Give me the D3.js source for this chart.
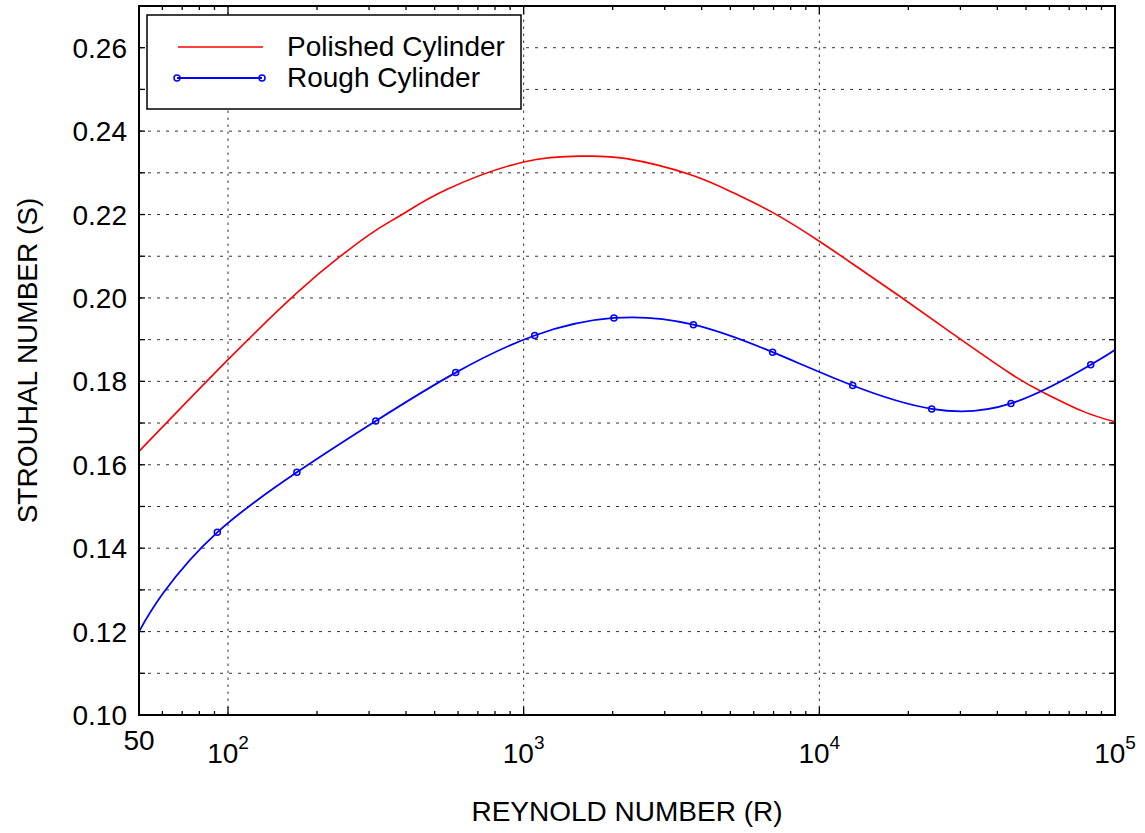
<!DOCTYPE html>
<html>
<head>
<meta charset="utf-8">
<script src="https://cdn.jsdelivr.net/npm/d3@7"></script>
<style>
  body { margin: 0; background: #fff; }
  text { font-family: "Liberation Sans", Arial, Helvetica, sans-serif; fill: #000; }
</style>
</head>
<body>
<svg id="chart" width="1145" height="833"></svg>
<script>
// polished cylinder curve
const polishedR = [50, 100, 171, 240, 316, 392, 549, 1000, 1590, 2230, 3650, 5120, 6990, 10000, 13700, 18700, 27000, 44000, 57000, 78000, 100000];
const polishedS = [0.1632, 0.1852, 0.2012, 0.2100, 0.2162, 0.2202, 0.2260, 0.2326, 0.2340, 0.2334, 0.2296, 0.2252, 0.2204, 0.2136, 0.2070, 0.2004, 0.1924, 0.1820, 0.1774, 0.1728, 0.1703];

// rough cylinder markers
const roughR = [92, 171, 316, 589, 1090, 2020, 3750, 6950, 12970, 23990, 44490, 82770];
const roughS = [0.1438, 0.1582, 0.1705, 0.1821, 0.1910, 0.1952, 0.1936, 0.1870, 0.1790, 0.1734, 0.1747, 0.1840];
// extra points on the rough curve (ends and the steep start)
const roughExtraR = [50, 60.3, 100000];
const roughExtraS = [0.1200, 0.1292, 0.1876];

const yTickValues = [0.10, 0.12, 0.14, 0.16, 0.18, 0.20, 0.22, 0.24, 0.26];
const xTickValues = [50, 100, 1000, 10000, 100000];
const xTickBase = ["50", "10", "10", "10", "10"];
const xTickExp = ["", "2", "3", "4", "5"];
const seriesNames = ["Polished Cylinder", "Rough Cylinder"];

const width = 1145, height = 833;
const margin = { left: 139, right: 30, top: 6, bottom: 118 };
const svg = d3.select("#chart");

const x = d3.scaleLog().domain([50, 100000]).range([margin.left, width - margin.right]);
const y = d3.scaleLinear().domain([0.10, 0.27]).range([height - margin.bottom, margin.top]);
const [x0, x1] = x.range();
const [y0, y1] = y.range();

// grid: every 0.01 on y, decades on x
const yGrid = d3.range(11, 27).map(d => d / 100);
svg.append("g").selectAll("line").data(yGrid).join("line")
    .attr("x1", x0).attr("x2", x1)
    .attr("y1", d => y(d)).attr("y2", d => y(d))
    .attr("stroke", "#333").attr("stroke-width", 1)
    .attr("stroke-dasharray", "3,6");

svg.append("g").selectAll("line").data([100, 1000, 10000]).join("line")
    .attr("x1", d => x(d)).attr("x2", d => x(d))
    .attr("y1", y0).attr("y2", y1)
    .attr("stroke", "#333").attr("stroke-width", 1)
    .attr("stroke-dasharray", "2.5,4.5");

// curves
const line = d3.line()
    .x(d => x(d[0]))
    .y(d => y(d[1]));

const polished = polishedR.map((r, i) => [r, polishedS[i]]);
svg.append("path")
    .datum(polished)
    .attr("d", line.curve(d3.curveNatural))
    .attr("fill", "none")
    .attr("stroke", "#ff0000")
    .attr("stroke-width", 1.6);

const roughPts = roughR.map((r, i) => [r, roughS[i]]);
const roughLine = roughPts.concat(roughExtraR.map((r, i) => [r, roughExtraS[i]]))
    .sort((a, b) => a[0] - b[0]);
svg.append("path")
    .datum(roughLine)
    .attr("d", line.curve(d3.curveNatural))
    .attr("fill", "none")
    .attr("stroke", "#0000ff")
    .attr("stroke-width", 1.8);

svg.append("g").selectAll("circle").data(roughPts).join("circle")
    .attr("cx", d => x(d[0])).attr("cy", d => y(d[1]))
    .attr("r", 3)
    .attr("fill", "none")
    .attr("stroke", "#0000ff")
    .attr("stroke-width", 1.5);

// axes box
svg.append("rect")
    .attr("x", x0).attr("y", y1)
    .attr("width", x1 - x0).attr("height", y0 - y1)
    .attr("fill", "none")
    .attr("stroke", "#000")
    .attr("stroke-width", 2);

// inward ticks
const ticks = svg.append("g").attr("stroke", "#000").attr("stroke-width", 1.3);
const yMinor = d3.range(11, 27).map(d => d / 100);
yMinor.forEach(v => {
    ticks.append("line").attr("x1", x0).attr("x2", x0 + 6).attr("y1", y(v)).attr("y2", y(v));
    ticks.append("line").attr("x1", x1).attr("x2", x1 - 6).attr("y1", y(v)).attr("y2", y(v));
});
const xMinor = [];
[10, 100, 1000, 10000].forEach(dec => {
    for (let k = 2; k <= 9; k++) {
        const v = k * dec;
        if (v > 50 && v < 100000) xMinor.push(v);
    }
});
xMinor.forEach(v => {
    ticks.append("line").attr("x1", x(v)).attr("x2", x(v)).attr("y1", y0).attr("y2", y0 - 4);
    ticks.append("line").attr("x1", x(v)).attr("x2", x(v)).attr("y1", y1).attr("y2", y1 + 4);
});
[100, 1000, 10000].forEach(v => {
    ticks.append("line").attr("x1", x(v)).attr("x2", x(v)).attr("y1", y0).attr("y2", y0 - 8);
    ticks.append("line").attr("x1", x(v)).attr("x2", x(v)).attr("y1", y1).attr("y2", y1 + 8);
});

// tick labels
svg.append("g").selectAll("text").data(yTickValues).join("text")
    .attr("x", 127)
    .attr("y", d => y(d) + 10)
    .attr("text-anchor", "end")
    .attr("font-size", 28)
    .text(d => d3.format(".2f")(d));

xTickValues.forEach((v, i) => {
    const t = svg.append("text")
        .attr("x", x(v))
        .attr("y", xTickExp[i] ? 763 : 750)
        .attr("text-anchor", "middle")
        .attr("font-size", 28);
    t.append("tspan").text(xTickBase[i]);
    if (xTickExp[i]) {
        t.append("tspan").attr("dy", -14).attr("font-size", 19).text(xTickExp[i]);
    }
});

// axis titles
svg.append("text")
    .attr("x", (x0 + x1) / 2)
    .attr("y", 821)
    .attr("text-anchor", "middle")
    .attr("font-size", 28)
    .text("REYNOLD NUMBER (R)");

svg.append("text")
    .attr("transform", `translate(37, ${(y0 + y1) / 2}) rotate(-90)`)
    .attr("text-anchor", "middle")
    .attr("font-size", 28)
    .text("STROUHAL NUMBER (S)");

// legend
const legend = svg.append("g");
legend.append("rect")
    .attr("x", 147).attr("y", 15)
    .attr("width", 374).attr("height", 94)
    .attr("fill", "#fff")
    .attr("stroke", "#000")
    .attr("stroke-width", 1.5);
legend.append("line")
    .attr("x1", 178).attr("x2", 263).attr("y1", 47).attr("y2", 47)
    .attr("stroke", "#ff0000").attr("stroke-width", 1.6);
legend.append("line")
    .attr("x1", 177).attr("x2", 262).attr("y1", 78).attr("y2", 78)
    .attr("stroke", "#0000ff").attr("stroke-width", 1.8);
legend.selectAll("circle").data([177, 262]).join("circle")
    .attr("cx", d => d).attr("cy", 78).attr("r", 3)
    .attr("fill", "none").attr("stroke", "#0000ff").attr("stroke-width", 1.5);
legend.selectAll("text").data(seriesNames).join("text")
    .attr("x", 287)
    .attr("y", (d, i) => 56 + i * 31)
    .attr("font-size", 28)
    .text(d => d);
</script>
</body>
</html>
